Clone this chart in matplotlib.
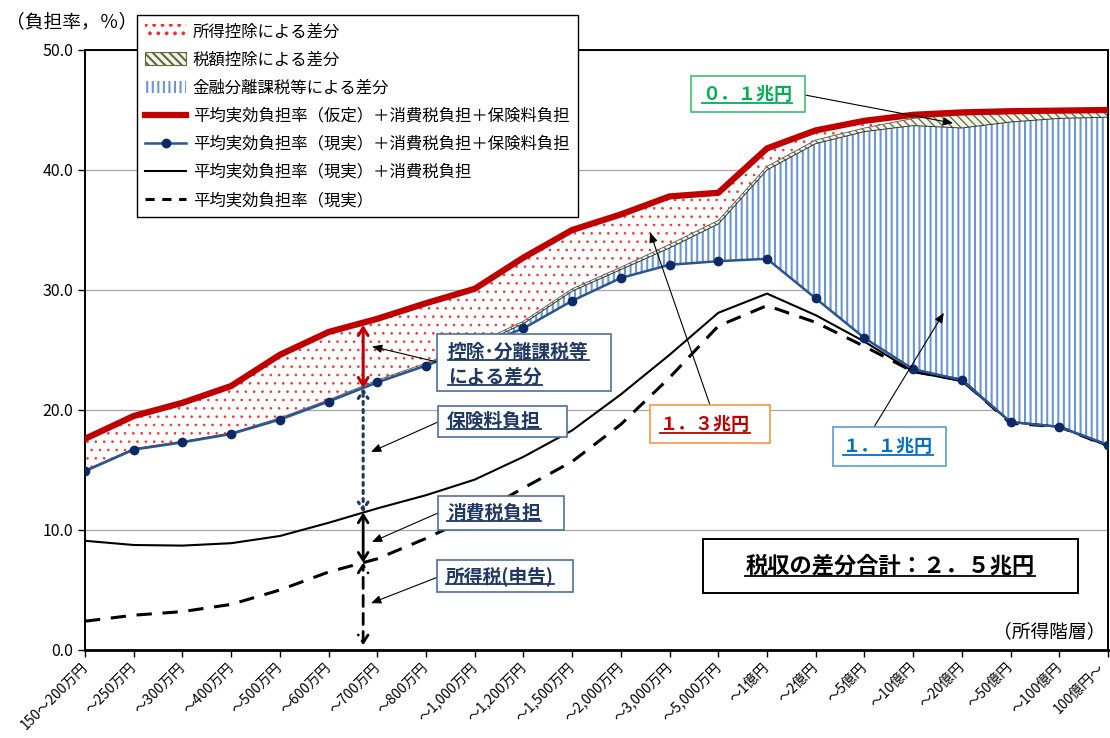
import numpy as np
import matplotlib
matplotlib.use("Agg")
import matplotlib.pyplot as plt
import matplotlib.transforms as mtransforms
from matplotlib.patches import Patch, Rectangle
from matplotlib.lines import Line2D

plt.rcParams["font.family"] = ["Noto Sans CJK JP", "DejaVu Sans"]

# ---- data -------------------------------------------------------------
categories = [
    "150～200万円", "～250万円", "～300万円", "～400万円", "～500万円",
    "～600万円", "～700万円", "～800万円", "～1,000万円", "～1,200万円",
    "～1,500万円", "～2,000万円", "～3,000万円", "～5,000万円", "～1億円",
    "～2億円", "～5億円", "～10億円", "～20億円", "～50億円", "～100億円",
    "100億円～",
]

# 平均実効負担率（仮定）＋消費税負担＋保険料負担
assumed_total = [17.6, 19.5, 20.6, 22.0, 24.6, 26.5, 27.6, 28.9, 30.1, 32.7,
                 35.0, 36.3, 37.8, 38.1, 41.8, 43.3, 44.1, 44.6, 44.8, 44.9,
                 44.95, 45.0]
# upper edge of the 税額控除 layer
after_credit = [15.0, 16.8, 17.4, 18.1, 19.35, 20.85, 22.5, 23.9, 25.5, 27.4,
                30.1, 31.9, 33.8, 35.8, 40.3, 42.5, 43.5, 44.3, 44.6, 44.7,
                44.8, 44.85]
# upper edge of the 金融分離課税等 layer
after_separate = [14.95, 16.75, 17.35, 18.05, 19.25, 20.75, 22.35, 23.75, 25.3,
                  27.2, 29.9, 31.7, 33.5, 35.5, 40.0, 42.2, 43.2, 43.7, 43.5,
                  44.0, 44.3, 44.4]
# 平均実効負担率（現実）＋消費税負担＋保険料負担
real_total = [14.9, 16.7, 17.3, 18.0, 19.2, 20.7, 22.3, 23.7, 25.2, 26.8,
              29.1, 31.0, 32.1, 32.4, 32.6, 29.3, 26.0, 23.4, 22.5, 19.0,
              18.6, 17.1]
# 平均実効負担率（現実）＋消費税負担
real_consumption = [9.1, 8.75, 8.7, 8.9, 9.5, 10.6, 11.8, 12.9, 14.2, 16.1,
                    18.3, 21.3, 24.6, 28.1, 29.7, 27.9, 25.7, 23.2, 22.4, 19.0,
                    18.6, 17.0]
# 平均実効負担率（現実）
real_rate = [2.4, 2.9, 3.2, 3.8, 5.0, 6.5, 7.6, 9.3, 11.2, 13.5, 15.7, 18.8,
             22.7, 27.0, 28.7, 27.3, 25.3, 23.2, 22.5, 18.9, 18.6, 17.0]

legend_labels = [
    "所得控除による差分",
    "税額控除による差分",
    "金融分離課税等による差分",
    "平均実効負担率（仮定）＋消費税負担＋保険料負担",
    "平均実効負担率（現実）＋消費税負担＋保険料負担",
    "平均実効負担率（現実）＋消費税負担",
    "平均実効負担率（現実）",
]

# ---- figure -----------------------------------------------------------
W, H = 1110, 738
fig = plt.figure(figsize=(W / 100, H / 100), dpi=100)
ax = fig.add_axes([85 / W, 88 / H, 1023 / W, 600 / H])
x = np.arange(len(categories))

RED = "#C00000"
NAVY = "#1F3864"
DOT_RED = "#FF2A2A"
VBLUE = "#6A96D2"
OLIVE = "#5E6B3C"

plt.rcParams["hatch.linewidth"] = 1.5
vfill = ax.fill_between(x, real_total, after_separate, facecolor="white",
                        edgecolor=VBLUE, hatch="|||", linewidth=0, zorder=2)
dfill = ax.fill_between(x, after_separate, after_credit, facecolor="#F2F5E8",
                        edgecolor=OLIVE, hatch="\\\\\\\\", linewidth=0, zorder=2)
pfill = ax.fill_between(x, after_credit, assumed_total, facecolor="white",
                        edgecolor=DOT_RED, hatch="..", linewidth=0, zorder=2)
for art, lw in ((vfill, 1.5), (dfill, 0.9), (pfill, 0.6)):
    if hasattr(art, "set_hatch_linewidth"):
        art.set_hatch_linewidth(lw)

ax.plot(x, after_separate, color="#333333", lw=0.7, zorder=3)
ax.plot(x, after_credit, color="#555555", lw=0.6, zorder=3)

ax.plot(x, real_rate, color="black", lw=2.2, dashes=(5, 3.5), zorder=4)
ax.plot(x, real_consumption, color="black", lw=1.5, zorder=4)
ax.plot(x, real_total, color="#2B5592", lw=1.8, marker="o", ms=6,
        mfc="#0D2A66", mec="#0D2A66", zorder=5)
ax.plot(x, assumed_total, color=RED, lw=4.5, zorder=6)

ax.set_xlim(0, len(categories) - 1)
ax.set_ylim(0, 50)
ax.set_yticks(np.arange(0, 51, 10))
ax.set_yticklabels([f"{v:.1f}" for v in np.arange(0, 51, 10)])
ax.yaxis.grid(True, color="#A6A6A6", lw=0.9)
ax.set_axisbelow(True)
ax.set_xticks(x)
ax.set_xticklabels(categories, rotation=45, ha="right", va="center",
                   rotation_mode="anchor", fontsize=10)
ax.tick_params(axis="y", direction="out", length=5, width=1, labelsize=11.5)
ax.tick_params(axis="x", direction="out", length=5, width=1, pad=6)
# keep the last rotated label inside the canvas
last = ax.get_xticklabels()[-1]
last.set_transform(last.get_transform() +
                   mtransforms.ScaledTranslation(-6 / 100, 0, fig.dpi_scale_trans))
for side in ("left", "right", "top"):
    ax.spines[side].set_linewidth(1.4)
ax.spines["bottom"].set_linewidth(2.0)

# ---- layer brackets at the 700万円 band ----------------------------------
xa = 5.71
r_a = np.interp(xa, x, assumed_total)
b_a = np.interp(xa, x, real_total)
s_a = np.interp(xa, x, real_consumption)
d_a = np.interp(xa, x, real_rate)
arrow_style = "<->,head_length=0.55,head_width=0.35"
ax.annotate("", xy=(xa, r_a - 0.2), xytext=(xa, b_a),
            arrowprops=dict(arrowstyle=arrow_style, color=RED, lw=2.2,
                            shrinkA=0, shrinkB=0), zorder=7)
ax.annotate("", xy=(xa, b_a), xytext=(xa, s_a),
            arrowprops=dict(arrowstyle=arrow_style, color=NAVY, lw=2.2,
                            ls=":", shrinkA=0, shrinkB=0), zorder=7)
ax.annotate("", xy=(xa, s_a), xytext=(xa, d_a),
            arrowprops=dict(arrowstyle=arrow_style, color="black", lw=2.0,
                            shrinkA=0, shrinkB=0), zorder=7)
ax.annotate("", xy=(xa, d_a), xytext=(xa, 0.4),
            arrowprops=dict(arrowstyle=arrow_style, color="black", lw=2.0,
                            ls=(0, (4, 2.5)), shrinkA=0, shrinkB=0), zorder=7)

# ---- callout boxes ------------------------------------------------------
underlined = []


def box(x0, y0, x1, y1, edge, lw=1.2):
    fig.add_artist(Rectangle((x0 / W, 1 - y1 / H), (x1 - x0) / W, (y1 - y0) / H,
                             transform=fig.transFigure, facecolor="white",
                             edgecolor=edge, linewidth=lw, zorder=8))


def label(px, py, s, color, size, ha="left"):
    t = fig.text(px / W, 1 - py / H, s, color=color, fontsize=size,
                 fontweight="bold", ha=ha, va="center", zorder=9)
    underlined.append(t)
    return t


def pointer(start_px, target):
    ax.annotate("", xy=target, xycoords="data",
                xytext=(start_px[0], H - start_px[1]), textcoords="figure pixels",
                arrowprops=dict(arrowstyle="-|>,head_length=0.6,head_width=0.25",
                                color="black", lw=0.8, shrinkA=0, shrinkB=0),
                zorder=7, annotation_clip=False)


GREEN = "#00B050"
box(691, 76, 805, 112, "#3CBF6E")
label(702, 95, "０．１兆円", GREEN, 13)
pointer((805, 95), (17.82, 43.9))

box(650, 405, 770, 443, "#F79646")
label(660, 425, "１．３兆円", RED, 13)
pointer((710, 405), (11.6, 34.8))

BLUE = "#0070C0"
box(833, 427, 946, 466, "#5B9BD5")
label(843, 447, "１．１兆円", BLUE, 13)
pointer((874, 427), (17.63, 28.1))

box(437, 334, 611, 391, "#4F6FA0")
label(448, 352, "控除･分離課税等", NAVY, 13.5)
label(448, 377, "による差分", NAVY, 13.5)
pointer((437, 362), (5.89, 25.3))

box(438, 406, 567, 437, "#4F6FA0")
label(447, 421, "保険料負担", NAVY, 13.5)
pointer((438, 422), (5.87, 16.5))

box(438, 496, 564, 530, "#4F6FA0")
label(447, 513, "消費税負担", NAVY, 13.5)
pointer((438, 513), (5.89, 9.0))

box(437, 560, 573, 592, "#4F6FA0")
label(446, 576, "所得税(申告)", NAVY, 13.5)
pointer((438, 577), (5.87, 3.9))

box(703, 539, 1078, 593, "black", lw=1.4)
label(890, 566, "税収の差分合計：２．５兆円", "black", 16, ha="center")

# ---- axis captions ------------------------------------------------------
fig.text(6 / W, 1 - 22 / H, "（負担率，％）", fontsize=13.5, va="center")
fig.text(1106 / W, 1 - 632 / H, "（所得階層）", fontsize=13.5, ha="right",
         va="center", zorder=9)

# ---- legend ----------------------------------------------------------------
handles = [
    Patch(facecolor="white", edgecolor=DOT_RED, hatch="..", linewidth=0),
    Patch(facecolor="#F2F5E8", edgecolor=OLIVE, hatch="\\\\\\\\", linewidth=0.8),
    Patch(facecolor="white", edgecolor=VBLUE, hatch="|||", linewidth=0),
    Line2D([], [], color=RED, lw=4.5),
    Line2D([], [], color="#2B5592", lw=1.8, marker="o", ms=6,
           mfc="#0D2A66", mec="#0D2A66"),
    Line2D([], [], color="black", lw=1.5),
    Line2D([], [], color="black", lw=2.2, dashes=(3, 2.5)),
]
leg = fig.legend(handles, legend_labels, loc="upper left",
                 bbox_to_anchor=(137 / W, 1 - 15 / H), frameon=True,
                 fancybox=False, edgecolor="black", framealpha=1,
                 fontsize=11.8, handlelength=2.5, handleheight=0.8,
                 labelspacing=0.68, borderpad=0.5, handletextpad=0.4,
                 borderaxespad=0)
leg.get_frame().set_linewidth(1.0)
leg.set_zorder(10)

# ---- underline the bold callout texts ------------------------------------
fig.canvas.draw()
renderer = fig.canvas.get_renderer()
for t in underlined:
    bb = t.get_window_extent(renderer)
    yline = (bb.y0 + 1.5) / H
    fig.add_artist(Line2D([bb.x0 / W, bb.x1 / W], [yline, yline],
                          transform=fig.transFigure, color=t.get_color(),
                          lw=1.3, zorder=9))

fig.savefig("out.png", dpi=100)
